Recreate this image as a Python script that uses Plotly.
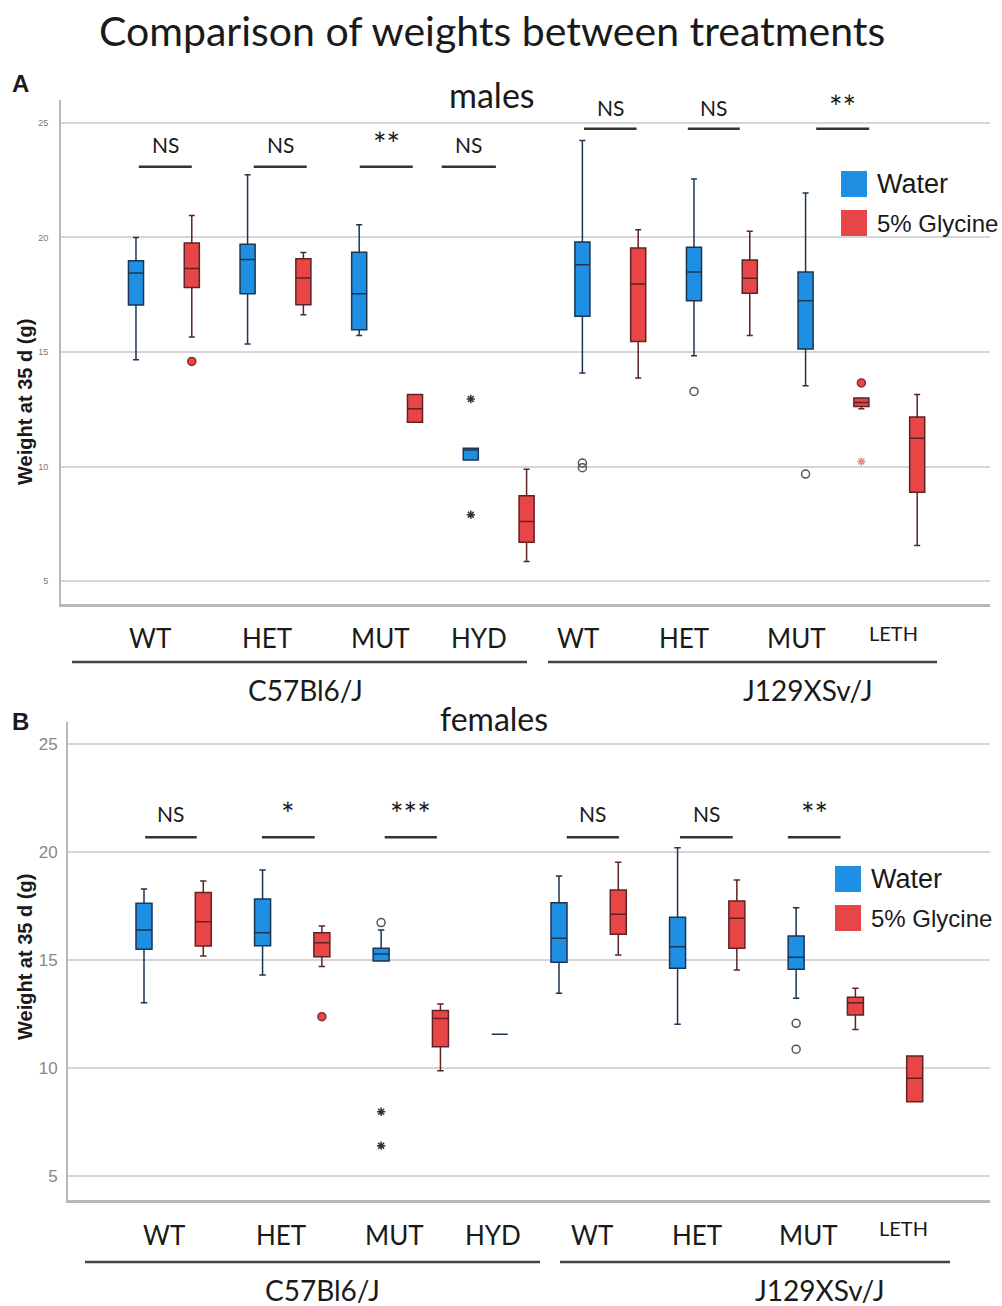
import plotly.graph_objects as go

W, H = 1002, 1306
def px(x): return x / W
def py(y): return 1 - y / H

# ---------------- data: males (panel A) ----------------
m_cats = ["C57 WT Water", "C57 WT Glycine", "C57 HET Water", "C57 HET Glycine",
          "C57 MUT Water", "C57 MUT Glycine", "C57 HYD Water", "C57 HYD Glycine",
          "J129 WT Water", "J129 WT Glycine", "J129 HET Water", "J129 HET Glycine",
          "J129 MUT Water", "J129 MUT Glycine", "J129 LETH Glycine"]
m_lo  = [14.66, 15.65, 15.35, 16.63, 15.72, 11.93, 10.29, 5.85, 14.08, 13.86, 14.84, 15.72, 13.53, 12.52, 6.55]
m_q1  = [17.05, 17.82, 17.54, 17.06, 15.97, 11.93, 10.29, 6.70, 16.56, 15.46, 17.24, 17.56, 15.13, 12.62, 8.88]
m_med = [18.45, 18.64, 19.04, 18.23, 17.54, 12.52, 10.72, 7.60, 18.81, 17.97, 18.49, 18.22, 17.24, 12.80, 11.24]
m_q3  = [18.98, 19.76, 19.70, 19.07, 19.35, 13.14, 10.80, 8.72, 19.80, 19.54, 19.57, 19.02, 18.49, 12.99, 12.16]
m_hi  = [20.00, 20.96, 22.74, 19.34, 20.56, 13.14, 10.80, 9.88, 24.23, 20.34, 22.55, 20.27, 21.94, 12.99, 13.14]

m_out_cat  = ["C57 WT Glycine", "C57 HYD Water", "C57 HYD Water", "J129 WT Water", "J129 WT Water",
              "J129 HET Water", "J129 MUT Water", "J129 MUT Glycine", "J129 MUT Glycine"]
m_out_val  = [14.59, 12.95, 7.90, 10.15, 9.95, 13.28, 9.67, 13.65, 10.22]
m_out_kind = ["circle", "star", "star", "circle", "circle", "circle", "circle", "circle", "star"]

# ---------------- data: females (panel B) ----------------
f_cats = ["C57 WT Water", "C57 WT Glycine", "C57 HET Water", "C57 HET Glycine",
          "C57 MUT Water", "C57 MUT Glycine", "C57 HYD Water",
          "J129 WT Water", "J129 WT Glycine", "J129 HET Water", "J129 HET Glycine",
          "J129 MUT Water", "J129 MUT Glycine", "J129 LETH Glycine"]
f_lo  = [13.03, 15.19, 14.31, 14.70, 14.96, 9.87, 11.56, 13.46, 15.24, 12.03, 14.54, 13.23, 11.79, 8.44]
f_q1  = [15.50, 15.66, 15.67, 15.16, 14.96, 10.99, 11.56, 14.90, 16.20, 14.62, 15.55, 14.58, 12.46, 8.44]
f_med = [16.40, 16.78, 16.27, 15.81, 15.29, 12.30, 11.56, 16.01, 17.13, 15.62, 16.94, 15.13, 13.03, 9.52]
f_q3  = [17.64, 18.13, 17.84, 16.27, 15.55, 12.66, 11.56, 17.66, 18.25, 16.99, 17.74, 16.12, 13.28, 10.56]
f_hi  = [18.30, 18.67, 19.18, 16.58, 16.40, 12.97, 11.56, 18.90, 19.54, 20.21, 18.72, 17.43, 13.70, 10.56]

f_out_cat  = ["C57 HET Glycine", "C57 MUT Water", "C57 MUT Water", "C57 MUT Water",
              "J129 MUT Water", "J129 MUT Water"]
f_out_val  = [12.38, 16.74, 7.97, 6.40, 12.07, 10.87]
f_out_kind = ["circle", "circle", "star", "star", "circle", "circle"]

# significance labels
m_sig_c57  = ["NS", "NS", "**", "NS"]
m_sig_j129 = ["NS", "NS", "**"]
f_sig      = ["NS", "*", "***", "NS", "NS", "**"]

genotypes_c57  = ["WT", "HET", "MUT", "HYD"]
genotypes_j129 = ["WT", "HET", "MUT", "LETH"]
strains = ["C57Bl6/J", "J129XSv/J"]
treatments = ["Water", "5% Glycine"]

# ---------------- style ----------------
BLUE, RED = "#1E8FE3", "#E84646"
BLUE_LINE, RED_LINE = "#1d3552", "#5e2323"
GRID = "#d6d6d6"
AXL = "#b8b8b8"
TXT = "#1a1a1a"

fig = go.Figure()

def add_panel(cats, lo, q1, med, q3, hi, ocat, oval, okind, xa, ya):
    for tr, fill, lc in [("Water", BLUE, BLUE_LINE), ("Glycine", RED, RED_LINE)]:
        idx = [i for i, c in enumerate(cats) if c.endswith(tr)]
        fig.add_trace(go.Box(
            x=[cats[i] for i in idx],
            lowerfence=[lo[i] for i in idx], q1=[q1[i] for i in idx],
            median=[med[i] for i in idx], q3=[q3[i] for i in idx],
            upperfence=[hi[i] for i in idx],
            fillcolor=fill, line=dict(color=lc, width=1.5),
            width=0.27, whiskerwidth=0.4, boxpoints=False,
            showlegend=False, hoverinfo="skip", xaxis=xa, yaxis=ya))
    styles = {
        ("Water", "circle"): dict(symbol="circle-open", size=8, color="#555555", line=dict(width=1.5, color="#555555")),
        ("Glycine", "circle"): dict(symbol="circle", size=8, color=RED, line=dict(width=1.5, color="#8a2b2b")),
        ("Water", "star"): dict(symbol="asterisk-open", size=7, color="#333333", line=dict(width=1.5, color="#333333")),
        ("Glycine", "star"): dict(symbol="asterisk-open", size=7, color="#f08a8a", line=dict(width=1.5, color="#f08a8a")),
    }
    for (tr, kind), mk in styles.items():
        pts = [(c, v) for c, v, k in zip(ocat, oval, okind) if c.endswith(tr) and k == kind]
        if not pts:
            continue
        fig.add_trace(go.Scatter(x=[p[0] for p in pts], y=[p[1] for p in pts], mode="markers",
                                 marker=mk, showlegend=False, hoverinfo="skip", xaxis=xa, yaxis=ya))

add_panel(m_cats, m_lo, m_q1, m_med, m_q3, m_hi, m_out_cat, m_out_val, m_out_kind, "x", "y")
add_panel(f_cats, f_lo, f_q1, f_med, f_q3, f_hi, f_out_cat, f_out_val, f_out_kind, "x2", "y2")

axis_common = dict(showgrid=False, zeroline=False, showticklabels=False, ticks="",
                   showline=True, linecolor=AXL, linewidth=2.5, type="category")
yaxis_common = dict(showgrid=True, gridcolor=GRID, gridwidth=1.5, zeroline=False,
                    showline=True, linecolor=AXL, linewidth=2, ticks="",
                    tickvals=[5, 10, 15, 20, 25])

fig.update_layout(
    width=W, height=H, margin=dict(l=0, r=0, t=0, b=0),
    paper_bgcolor="white", plot_bgcolor="white", boxmode="overlay",
    font=dict(family="Lato", color=TXT),
    xaxis=dict(axis_common, domain=[px(61), px(990)], anchor="y",
               categoryorder="array", categoryarray=m_cats, range=[-1.344, 15.305]),
    yaxis=dict(yaxis_common, domain=[py(604), py(100)], anchor="x", range=[4.0, 26.0],
               tickfont=dict(color="#777777", size=9, family="Liberation Sans"), ticklabelstandoff=9),
    xaxis2=dict(axis_common, domain=[px(68), px(990)], anchor="y2",
                categoryorder="array", categoryarray=f_cats, range=[-1.282, 14.27]),
    yaxis2=dict(yaxis_common, domain=[py(1200), py(722)], anchor="x2", range=[3.88, 26.04],
                tickfont=dict(color="#888888", size=17, family="Liberation Sans"), ticklabelstandoff=5),
)

ann = []
shapes = []

def txt(x, y, s, size, family="Lato", bold=False, angle=0, xanchor="center", color=TXT):
    ann.append(dict(x=px(x), y=py(y), xref="paper", yref="paper", text=("<b>%s</b>" % s) if bold else s,
                    showarrow=False, xanchor=xanchor, yanchor="middle", textangle=angle,
                    font=dict(size=size, family=family, color=color)))

# titles
txt(492, 30, "Comparison of weights between treatments", 41)
txt(20, 84, "A", 24, family="Liberation Sans", bold=True)
txt(20, 721, "B", 24, family="Liberation Sans", bold=True)
txt(492, 95, "males", 34)
txt(494, 718, "females", 32)
txt(25, 402, "Weight at 35 d (g)", 20, family="Liberation Sans", bold=True, angle=-90)
txt(25, 957, "Weight at 35 d (g)", 20, family="Liberation Sans", bold=True, angle=-90)

# significance bars (slot units on category axis)
def sig(xref, yref, x0, x1, ybar, ytext, label):
    shapes.append(dict(type="line", xref=xref, yref=yref, x0=x0, x1=x1, y0=ybar, y1=ybar,
                       line=dict(color="#333333", width=2.5)))
    star = label != "NS"
    ann.append(dict(x=(x0 + x1) / 2, y=ytext, xref=xref, yref=yref, text=label, showarrow=False,
                    xanchor="center", yanchor="middle",
                    font=dict(size=32 if star else 21, family="Lato", color=TXT)))

m_c57_span  = [(0.05, 1.0), (2.11, 3.06), (4.01, 4.96), (5.48, 6.45)]
m_j129_span = [(8.03, 8.97), (9.89, 10.82), (12.19, 13.14)]
for lab, (a, b) in zip(m_sig_c57, m_c57_span):
    sig("x", "y", a, b, 23.09, 24.05 if lab == "NS" else 24.1, lab)
for lab, (a, b) in zip(m_sig_j129, m_j129_span):
    sig("x", "y", a, b, 24.75, 25.66 if lab == "NS" else 25.7, lab)
f_span = [(0.02, 0.89), (1.99, 2.88), (4.06, 4.94), (7.13, 8.01), (9.04, 9.93), (10.86, 11.75)]
for lab, (a, b) in zip(f_sig, f_span):
    sig("x2", "y2", a, b, 20.7, 21.78 if lab == "NS" else 21.82, lab)

# legends
def legend(x0, ytops, sizes):
    cols = [BLUE, RED]
    for yt, c, t, s in zip(ytops, cols, treatments, sizes):
        shapes.append(dict(type="rect", xref="paper", yref="paper", x0=px(x0), x1=px(x0 + 26),
                           y0=py(yt + 26), y1=py(yt), fillcolor=c, line=dict(width=0)))
        txt(x0 + 34, yt + 13, t, s, family="Liberation Sans", xanchor="left")
legend(841, [171, 210], [27, 24])
legend(835, [866, 905], [27, 24])

# genotype / strain labels
def group_labels(xs, y, y_leth, line_y, lines, strain_y, strain_x):
    labs = genotypes_c57 + genotypes_j129
    for x, l in zip(xs, labs):
        if l == "LETH":
            txt(x, y_leth, l, 20)
        else:
            txt(x, y, l, 26)
    for (a, b) in lines:
        shapes.append(dict(type="line", xref="paper", yref="paper", x0=px(a), x1=px(b),
                           y0=py(line_y), y1=py(line_y), line=dict(color="#444444", width=2.5)))
    for sx, s in zip(strain_x, strains):
        txt(sx, strain_y, s, 28)

group_labels([150, 267, 380, 479, 578, 684, 796, 893], 638, 633, 662,
             [(72, 527), (548, 937)], 690, [305, 808])
group_labels([164, 281, 394, 493, 592, 697, 808, 903], 1235, 1228, 1262,
             [(85, 540), (560, 950)], 1290, [322, 820])

fig.update_layout(annotations=ann, shapes=shapes)
fig.write_html("out.html")
